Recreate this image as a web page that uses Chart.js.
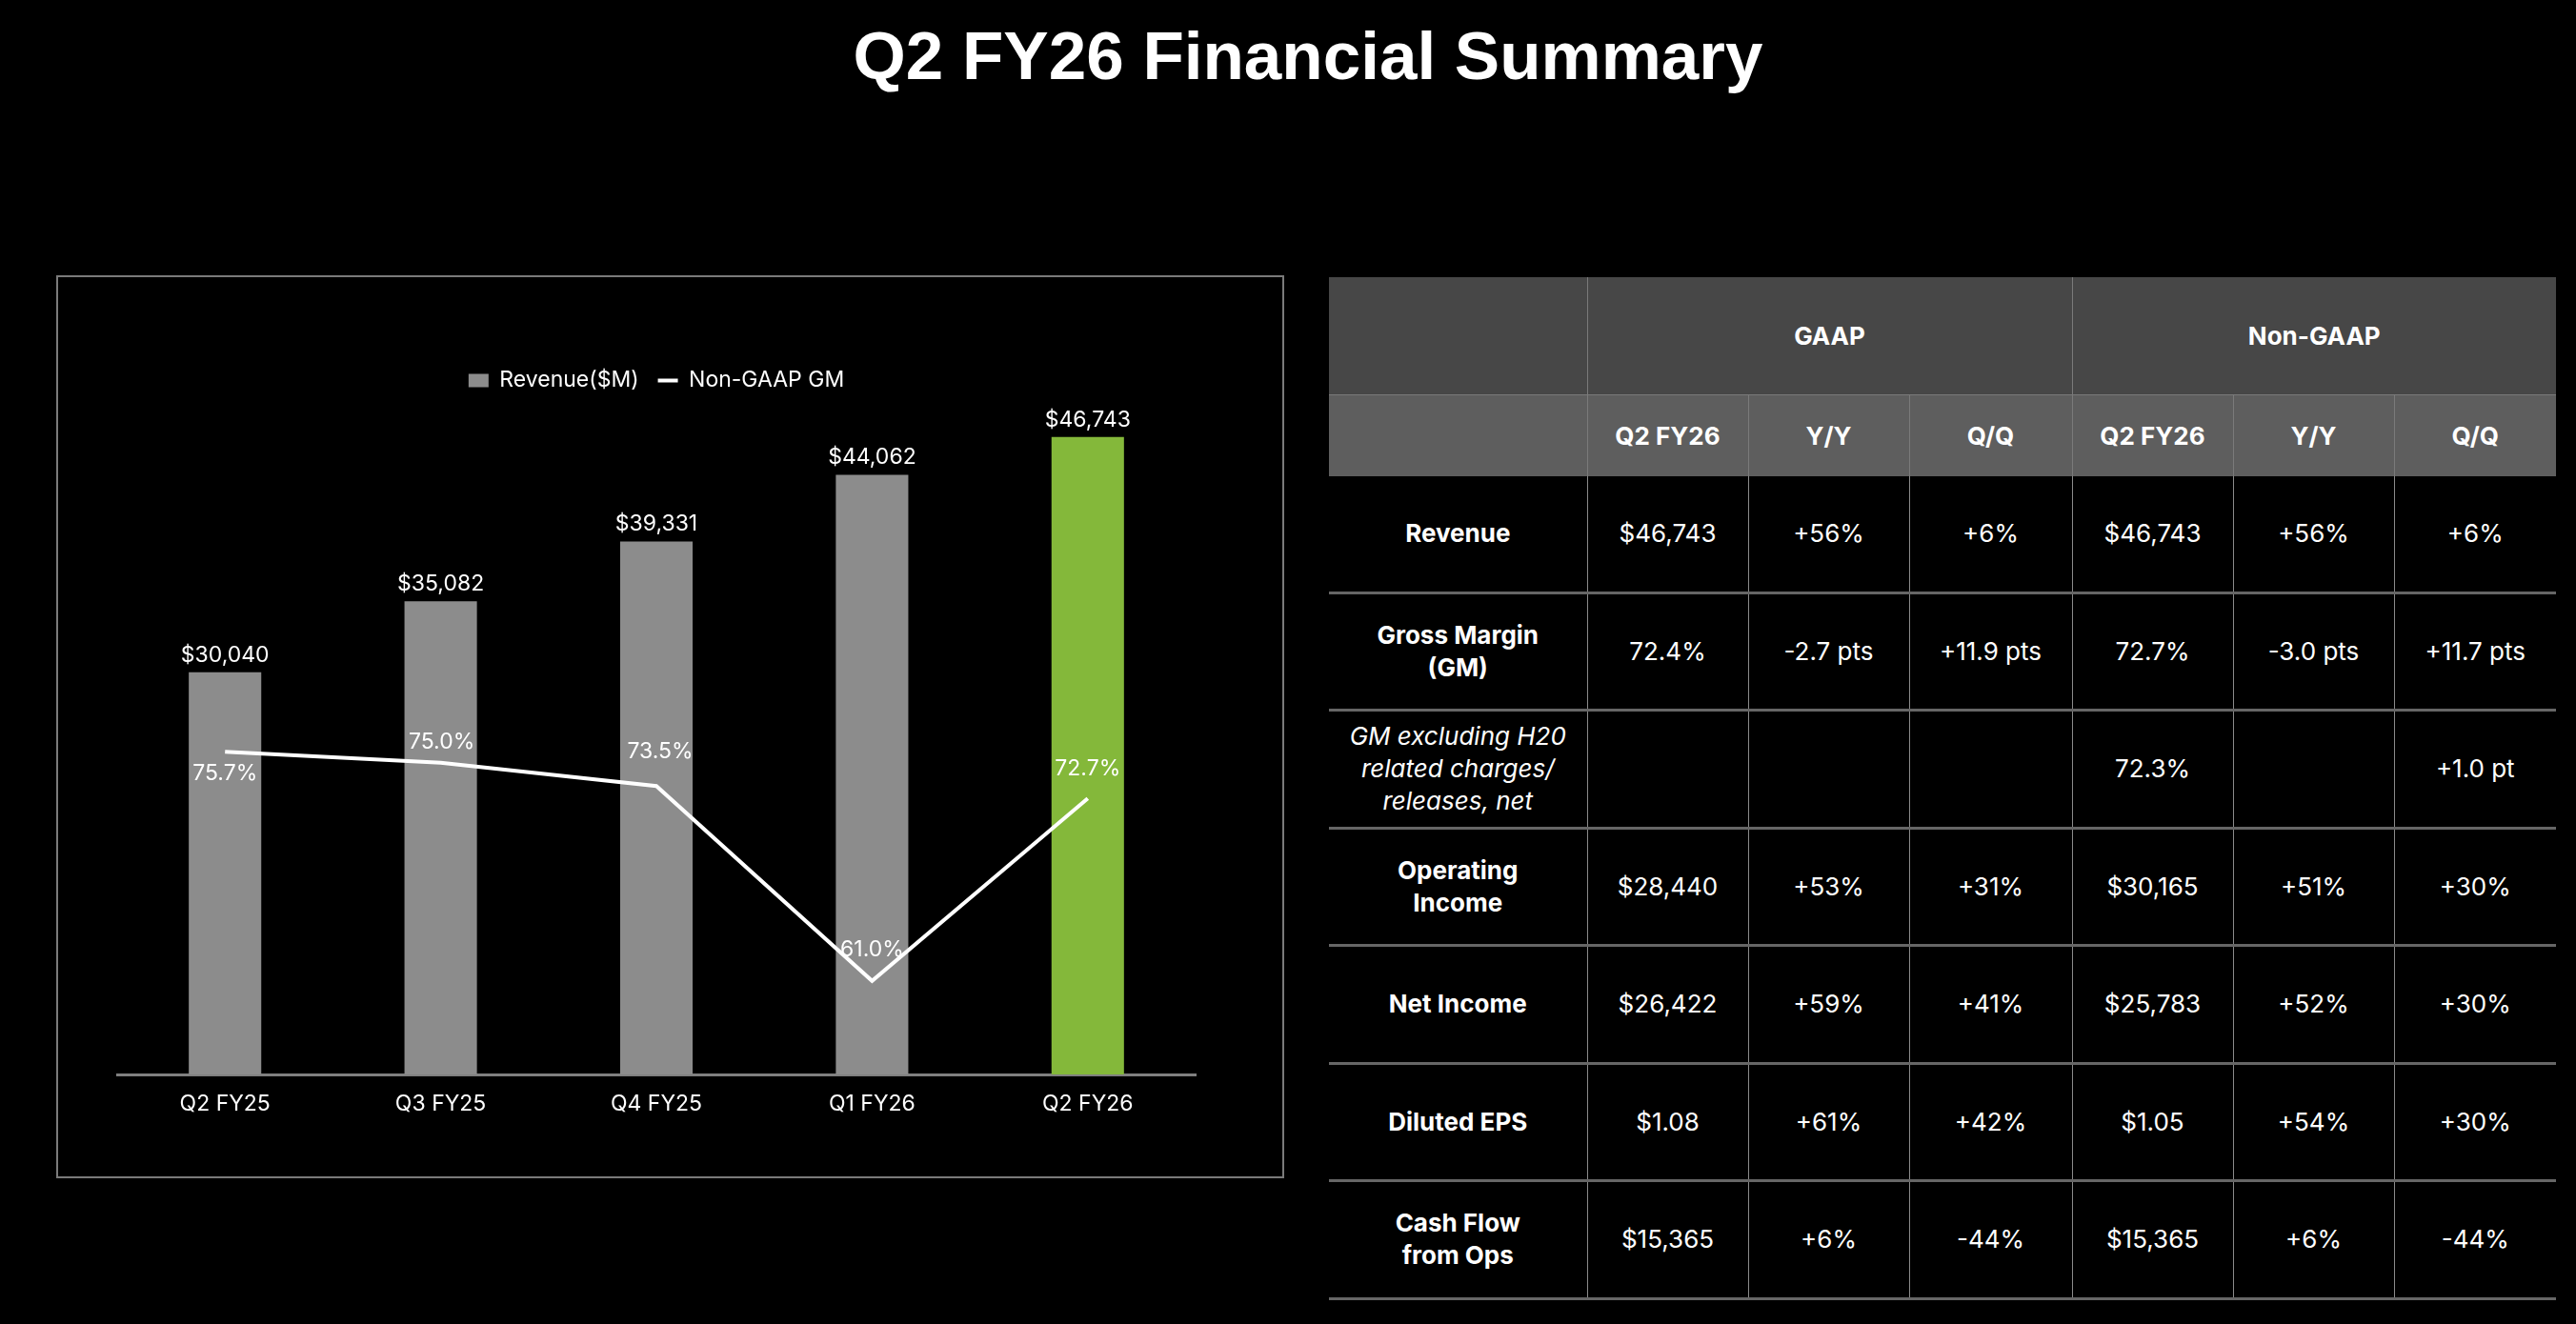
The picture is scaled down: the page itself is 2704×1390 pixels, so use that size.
<!DOCTYPE html>
<html>
<head>
<meta charset="utf-8">
<script src="https://cdn.jsdelivr.net/npm/chart.js@4.4.1/dist/chart.umd.min.js"></script>
<style>
  body {
    margin: 0;
    width: 2704px;
    height: 1390px;
    background: #000;
    overflow: hidden;
    position: relative;
    font-family: Inter, "Liberation Sans", sans-serif;
    color: #fff;
  }
  #title {
    position: absolute;
    left: 0;
    top: 23px;
    width: 2746px;
    text-align: center;
    font: bold 71px/71px "Liberation Sans", Arial, sans-serif;
  }
  #chartBox {
    position: absolute;
    left: 59px;
    top: 289px;
    width: 1289px;
    height: 948px;
    border: 2px solid #7a7a7a;
    box-sizing: border-box;
  }
  #chartBox canvas { display: block; }
  #summary {
    position: absolute;
    left: 1395px;
    top: 291px;
    width: 1288px;
    border-collapse: collapse;
    table-layout: fixed;
    font-size: 26px;
    line-height: 34px;
    text-align: center;
  }
  #summary td, #summary th { padding: 0; vertical-align: middle; }
  #summary tr.h1 th { background: #474747; height: 123px; border-right: 1px solid #7a7a7a; border-bottom: 1px solid #7a7a7a; }
  #summary tr.h2 th { background: #5e5e5e; height: 85px; border-right: 1px solid #7a7a7a; }
  #summary th:last-child { border-right: none !important; }
  #summary tbody td { height: 120.5px; border-right: 1px solid #8a8a8a; border-bottom: 3px solid #666; font-weight: 400; }
  #summary tbody td:last-child { border-right: none; }
  #summary tbody td.lbl { font-weight: 700; }
  #summary tbody td.lbl.it { font-weight: 400; font-style: italic; }
</style>
</head>
<body>
<div id="title">Q2 FY26 Financial Summary</div>
<div id="chartBox"><canvas id="revChart" width="1285" height="944"></canvas></div>
<table id="summary">
  <colgroup>
    <col style="width:271px"><col style="width:169px"><col style="width:169px"><col style="width:171px">
    <col style="width:169px"><col style="width:169px"><col style="width:170px">
  </colgroup>
  <thead></thead>
  <tbody></tbody>
</table>

<script>
// chart data
const quarters = ["Q2 FY25", "Q3 FY25", "Q4 FY25", "Q1 FY26", "Q2 FY26"];
const revenue = [30040, 35082, 39331, 44062, 46743];
const nonGaapGM = [75.7, 75.0, 73.5, 61.0, 72.7];

// table data
const groupHeads = ["GAAP", "Non-GAAP"];
const colHeads = ["Q2 FY26", "Y/Y", "Q/Q"];
const rowLabels = ["Revenue", "Gross Margin<br>(GM)", "GM excluding H20<br>related charges/<br>releases, net",
  "Operating<br>Income", "Net Income", "Diluted EPS", "Cash Flow<br>from Ops"];
const gaapQ2 = ["$46,743", "72.4%", "", "$28,440", "$26,422", "$1.08", "$15,365"];
const gaapYY = ["+56%", "-2.7 pts", "", "+53%", "+59%", "+61%", "+6%"];
const gaapQQ = ["+6%", "+11.9 pts", "", "+31%", "+41%", "+42%", "-44%"];
const nonGaapQ2 = ["$46,743", "72.7%", "72.3%", "$30,165", "$25,783", "$1.05", "$15,365"];
const nonGaapYY = ["+56%", "-3.0 pts", "", "+51%", "+52%", "+54%", "+6%"];
const nonGaapQQ = ["+6%", "+11.7 pts", "+1.0 pt", "+30%", "+30%", "+30%", "-44%"];

// build table
const thead = document.querySelector("#summary thead");
let h1 = '<tr class="h1"><th></th>';
groupHeads.forEach(g => { h1 += `<th colspan="3">${g}</th>`; });
h1 += "</tr>";
let h2 = '<tr class="h2"><th></th>';
groupHeads.forEach(() => colHeads.forEach(c => { h2 += `<th>${c}</th>`; }));
h2 += "</tr>";
thead.innerHTML = h1 + h2;

const tbody = document.querySelector("#summary tbody");
rowLabels.forEach((lbl, i) => {
  const cls = i === 2 ? "lbl it" : "lbl";
  const cells = [gaapQ2[i], gaapYY[i], gaapQQ[i], nonGaapQ2[i], nonGaapYY[i], nonGaapQQ[i]];
  tbody.innerHTML += `<tr><td class="${cls}">${lbl}</td>` + cells.map(c => `<td>${c}</td>`).join("") + "</tr>";
});

// chart
const barColors = quarters.map((q, i) => (i === quarters.length - 1 ? "#84b83a" : "#8c8c8c"));
const gmLabelDx = [0, 1, 4, 0, 0];
const gmLabelDy = [23, -22, -36, -33, -31];

const valueLabels = {
  id: "valueLabels",
  afterDatasetsDraw(chart) {
    const ctx = chart.ctx;
    ctx.save();
    ctx.font = "23px Inter";
    ctx.fillStyle = "#fff";
    ctx.textAlign = "center";
    ctx.textBaseline = "alphabetic";
    chart.getDatasetMeta(0).data.forEach((bar, i) => {
      ctx.fillText("$" + revenue[i].toLocaleString("en-US"), bar.x, bar.y - 11);
    });
    ctx.textBaseline = "middle";
    chart.getDatasetMeta(1).data.forEach((pt, i) => {
      ctx.fillText(nonGaapGM[i].toFixed(1) + "%", pt.x + gmLabelDx[i], pt.y + gmLabelDy[i]);
    });
    ctx.restore();
  }
};

new Chart(document.getElementById("revChart"), {
  data: {
    labels: quarters,
    datasets: [
      {
        type: "bar",
        label: "Revenue($M)",
        data: revenue,
        backgroundColor: barColors,
        borderWidth: 0,
        barPercentage: 0.336,
        categoryPercentage: 1,
        yAxisID: "y",
        order: 2,
        pointStyle: "rect"
      },
      {
        type: "line",
        label: "Non-GAAP GM",
        data: nonGaapGM,
        borderColor: "#fff",
        backgroundColor: "#fff",
        borderWidth: 4,
        pointRadius: 0,
        tension: 0,
        yAxisID: "y1",
        order: 1,
        pointStyle: "line"
      }
    ]
  },
  options: {
    responsive: false,
    animation: false,
    devicePixelRatio: 1,
    events: [],
    layout: { padding: { left: 62, right: 91, top: 77, bottom: 47 } },
    plugins: {
      tooltip: { enabled: false },
      legend: {
        position: "top",
        labels: {
          color: "#fff",
          font: { family: "Inter", size: 23 },
          usePointStyle: true,
          pointStyleWidth: 21,
          boxHeight: 14,
          padding: 20,
          sort: (a, b) => a.datasetIndex - b.datasetIndex
        }
      }
    },
    scales: {
      x: {
        grid: { display: false, drawTicks: false },
        border: { color: "#7f7f7f", width: 3 },
        ticks: { color: "#fff", font: { family: "Inter", size: 23 }, padding: 17 },
        afterFit: s => { s.height = 60; }
      },
      y: { display: false, min: 1500, max: 49300 },
      y1: { display: false, min: 55, max: 98.2 }
    }
  },
  plugins: [valueLabels]
});
</script>
</body>
</html>
